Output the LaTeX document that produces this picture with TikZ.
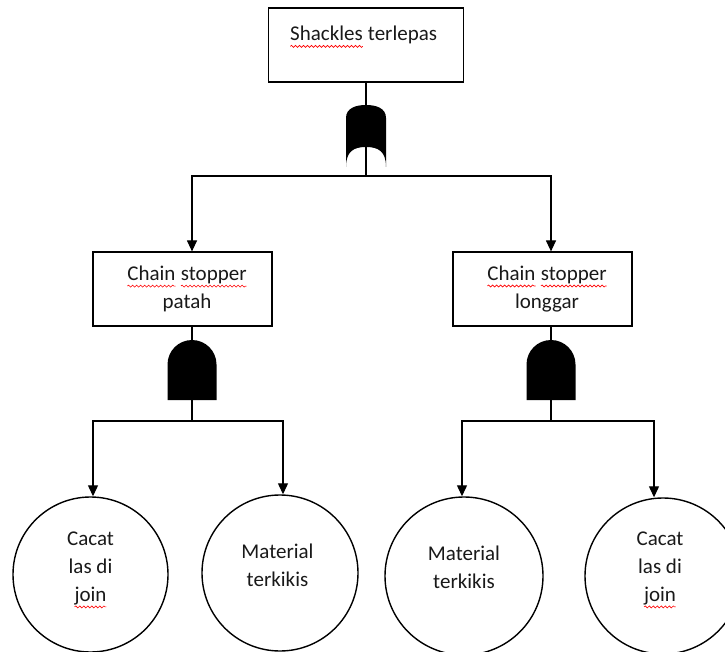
\documentclass[tikz,border=0pt]{standalone}
\usepackage{fontspec}
\setmainfont{Carlito}
\usetikzlibrary{arrows.meta,decorations.pathmorphing}

% red spell-check squiggle under a word
\newcommand\wavy[1]{\tikz[baseline=(w.base)]{%
  \node[inner sep=0pt,outer sep=0pt,anchor=base] (w) {#1};
  \draw[red,line width=0.6pt,decorate,
        decoration={snake,amplitude=1pt,segment length=4pt}]
    ([yshift=-5.5pt]w.base west) -- ([yshift=-5.5pt]w.base east);}}

\tikzset{
  wire/.style={line width=1.2pt,black},
  arr/.style={wire,-{Triangle[length=11pt,width=10pt]}},
  eventbox/.style={draw,line width=1.2pt,minimum width=195pt,minimum height=74pt,inner sep=0pt},
  subbox/.style={draw,line width=1.2pt,minimum width=179pt,minimum height=74pt,inner sep=0pt},
  basic/.style={draw,circle,line width=1.4pt,inner sep=0pt},
  txt/.style={font=\fontsize{21}{28}\selectfont,align=center,inner sep=0pt,text=black!90},
  orgate/.pic={
    \fill (-20,13) .. controls (-20,3) and (-10,0) .. (0,0)
          .. controls (10,0) and (20,3) .. (20,13) -- (20,62)
          .. controls (20,46) and (12,42) .. (0,42)
          .. controls (-12,42) and (-20,46) .. (-20,62) -- cycle;
    \coordinate (-in) at (0,0);
    \coordinate (-out) at (0,42);
  },
  andgate/.pic={
    \fill (-24.5,60) -- (-24.5,24.5) arc[start angle=180,end angle=0,radius=24.5pt]
          -- (24.5,60) -- cycle;
    \coordinate (-in) at (0,0);
    \coordinate (-out) at (0,60);
  }
}

\begin{document}
\begin{tikzpicture}[x=1pt,y=-1pt]
\useasboundingbox (0,0) rectangle (725,652);

% top event
\node[eventbox,label={[txt,xshift=-2.5pt,yshift=8pt]center:{\wavy{Shackles} terlepas}}] (T) at (366,45) {};
\pic (g0) at (366,105) {orgate};

% intermediate events
\node[subbox,label={[txt,xshift=4.5pt]center:{\wavy{Chain} \wavy{stopper}\\patah}}] (L) at (182.5,289) {};
\node[subbox,label={[txt,xshift=4.5pt]center:{\wavy{Chain} \wavy{stopper}\\longgar}}] (R) at (542.5,289) {};
\pic (g1) at (192,340) {andgate};
\pic (g2) at (551,340) {andgate};

% basic events
\node[basic,minimum size=155pt,label={[txt,yshift=4.5pt]center:{Cacat\\las di\\\wavy{join}}}] (C1) at (90.5,574.5) {};
\node[basic,minimum size=156pt,label={[txt,xshift=-2.5pt,yshift=8pt]center:{Material\\terkikis}}] (C2) at (280,573) {};
\node[basic,minimum size=158pt,label={[txt,yshift=8.5pt]center:{Material\\terkikis}}] (C3) at (464,576) {};
\node[basic,minimum size=156pt,label={[txt,xshift=-3pt,yshift=6pt]center:{Cacat\\las di\\\wavy{join}}}] (C4) at (663,576) {};

% branch points
\coordinate (h0) at (366,176);
\coordinate (h1) at (192,421);
\coordinate (h2) at (551,421);

% connectors
\draw[wire] (T.south) -- (g0-in);
\draw[wire] (g0-out) -- (h0);
\draw[arr] (h0) -| (g1-in |- L.north);
\draw[arr] (h0) -| (g2-in |- R.north);

\draw[wire] (g1-in |- L.south) -- (g1-in);
\draw[wire] (g1-out) -- (h1);
\draw[arr] (h1) -| ([xshift=2.5pt]C1.north);
\draw[arr] (h1) -| ([xshift=3pt]C2.north);

\draw[wire] (g2-in |- R.south) -- (g2-in);
\draw[wire] (g2-out) -- (h2);
\draw[arr] (h2) -| ([xshift=-2pt]C3.north);
\draw[arr] (h2) -| ([xshift=-9pt]C4.north);
\end{tikzpicture}
\end{document}
